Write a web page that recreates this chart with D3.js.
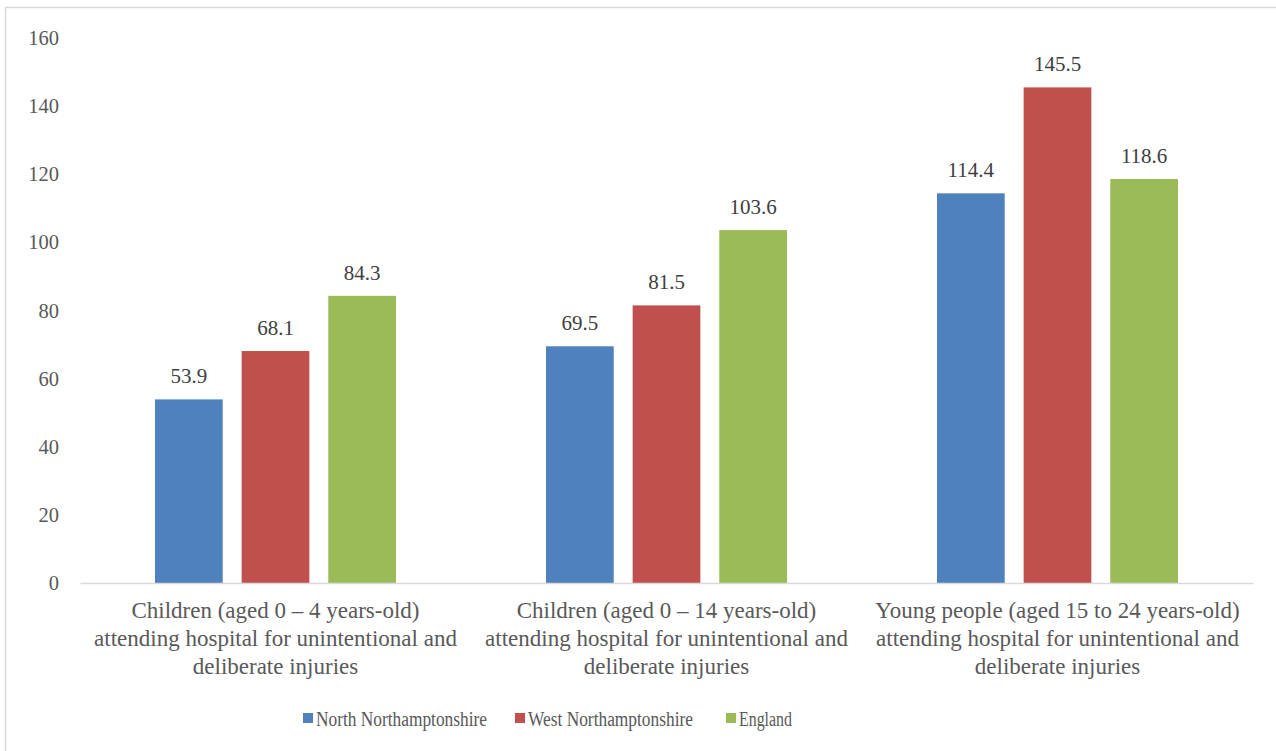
<!DOCTYPE html>
<html><head><meta charset="utf-8">
<script src="https://cdn.jsdelivr.net/npm/d3@7"></script>
<style>body{margin:0;background:#fff;} svg{display:block;} svg text{font-family:"Liberation Serif","Times New Roman","Liberation Sans",Arial,sans-serif;}</style>
</head><body>
<svg id="chart" width="1276" height="751"></svg>
<script>
const categories = [
  ["Children (aged 0 \u2013 4 years-old)", "attending hospital for unintentional and", "deliberate injuries"],
  ["Children (aged 0 \u2013 14 years-old)", "attending hospital for unintentional and", "deliberate injuries"],
  ["Young people (aged 15 to 24 years-old)", "attending hospital for unintentional and", "deliberate injuries"]
];
const seriesNames = ["North Northamptonshire", "West Northamptonshire", "England"];
const northValues = [53.9, 69.5, 114.4];
const westValues = [68.1, 81.5, 145.5];
const englandValues = [84.3, 103.6, 118.6];
const yTicks = [0, 20, 40, 60, 80, 100, 120, 140, 160];
const colors = ["#4f81bd", "#c0504d", "#9bbb59"];

const seriesValues = [northValues, westValues, englandValues];
const svg = d3.select("#chart");
const FF = '"Liberation Serif","Times New Roman","Liberation Sans",Arial,sans-serif';

// border (top & left visible)
svg.append("rect").attr("x", 5.5).attr("y", 7.5).attr("width", 1400).attr("height", 900)
  .attr("fill", "none").attr("stroke", "#d9d9d9").attr("stroke-width", 1.5);

const x0 = d3.scaleBand().domain(d3.range(categories.length)).range([80, 1253]).padding(0);
const x1 = d3.scaleBand().domain(d3.range(seriesNames.length)).range([75, 316]).paddingInner(0.2184).paddingOuter(0);
const y = d3.scaleLinear().domain([0, 160]).range([583, 38]);

// y axis labels
const yAxis = d3.axisLeft(y).tickValues(yTicks).tickSize(0).tickPadding(0).tickFormat(d3.format("d"));
const ya = svg.append("g").attr("transform", "translate(59,0)").call(yAxis);
ya.select(".domain").remove();
ya.selectAll("text").style("font-size", "20.5px").attr("fill", "#595959").style("font-family", FF);

// bars
const groups = svg.append("g").selectAll("g").data(categories).join("g")
  .attr("transform", (d, i) => `translate(${x0(i)},0)`);
groups.each(function(cat, ci) {
  const g = d3.select(this);
  seriesValues.forEach((vals, si) => {
    g.append("rect").attr("x", x1(si)).attr("width", x1.bandwidth())
      .attr("y", y(vals[ci])).attr("height", y(0) - y(vals[ci])).attr("fill", colors[si]);
    g.append("text").attr("x", x1(si) + x1.bandwidth() / 2).attr("y", y(vals[ci]) - 16)
      .attr("text-anchor", "middle").style("font-size", "21px")
      .attr("fill", "#404040").text(vals[ci].toFixed(1));
  });
});

// baseline axis
const xAxis = d3.axisBottom(x0).tickSize(0).tickFormat("");
const xa = svg.append("g").attr("transform", `translate(0,${y(0)})`).call(xAxis);
xa.select(".domain").attr("stroke", "#d9d9d9").attr("stroke-width", 1.5);

// category labels
categories.forEach((lines, i) => {
  const t = svg.append("text").attr("text-anchor", "middle")
    .style("font-size", "23px").attr("fill", "#595959");
  lines.forEach((ln, j) => {
    t.append("tspan").attr("x", x0(i) + x0.bandwidth() / 2).attr("y", 618 + j * 28).text(ln);
  });
});

// legend
const legendX = [303, 515, 726];
const legendW = [171, 165, 53];
seriesNames.forEach((n, i) => {
  svg.append("rect").attr("x", legendX[i]).attr("y", 713).attr("width", 10).attr("height", 10).attr("fill", colors[i]);
  svg.append("text").attr("x", legendX[i] + 13).attr("y", 725.5)
    .attr("textLength", legendW[i]).attr("lengthAdjust", "spacingAndGlyphs")
    .style("font-size", "20px").attr("fill", "#595959").text(n);
});
</script>
</body></html>
